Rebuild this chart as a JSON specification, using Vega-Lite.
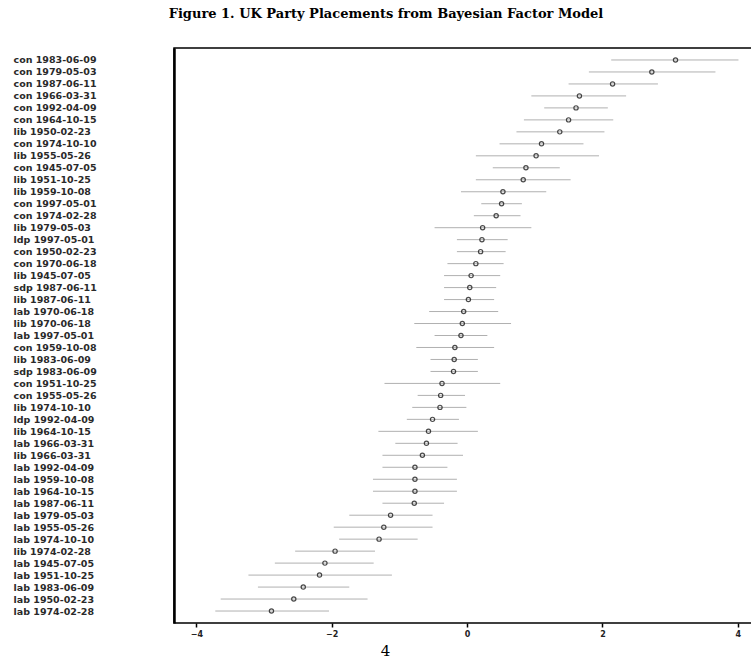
{
  "$schema": "https://vega.github.io/schema/vega-lite/v6.json",
  "width": 578,
  "height": 575,
  "autosize": {"type": "none"},
  "padding": {"left": 174, "top": 48, "right": 0, "bottom": 36},
  "background": "white",
  "title": {
    "text": "Figure 1. UK Party Placements from Bayesian Factor Model",
    "font": "DejaVu Serif",
    "fontSize": 13,
    "fontWeight": "bold",
    "anchor": "middle",
    "dx": -77,
    "offset": 27,
    "color": "black"
  },
  "config": {"view": {"stroke": "black", "strokeWidth": 1.5}},
  "data": {
    "values": [
      {"label": "con 1983-06-09", "est": 3.08, "lo": 2.13, "hi": 4.01},
      {"label": "con 1979-05-03", "est": 2.73, "lo": 1.80, "hi": 3.67},
      {"label": "con 1987-06-11", "est": 2.15, "lo": 1.50, "hi": 2.82},
      {"label": "con 1966-03-31", "est": 1.66, "lo": 0.95, "hi": 2.35},
      {"label": "con 1992-04-09", "est": 1.61, "lo": 1.14, "hi": 2.08},
      {"label": "con 1964-10-15", "est": 1.50, "lo": 0.84, "hi": 2.16},
      {"label": "lib 1950-02-23", "est": 1.37, "lo": 0.73, "hi": 2.03},
      {"label": "con 1974-10-10", "est": 1.10, "lo": 0.48, "hi": 1.72},
      {"label": "lib 1955-05-26", "est": 1.02, "lo": 0.13, "hi": 1.95},
      {"label": "con 1945-07-05", "est": 0.87, "lo": 0.38, "hi": 1.37},
      {"label": "lib 1951-10-25", "est": 0.83, "lo": 0.13, "hi": 1.53},
      {"label": "lib 1959-10-08", "est": 0.53, "lo": -0.09, "hi": 1.17},
      {"label": "con 1997-05-01", "est": 0.51, "lo": 0.21, "hi": 0.81},
      {"label": "con 1974-02-28", "est": 0.43, "lo": 0.10, "hi": 0.79},
      {"label": "lib 1979-05-03", "est": 0.23, "lo": -0.48, "hi": 0.95},
      {"label": "ldp 1997-05-01", "est": 0.22, "lo": -0.15, "hi": 0.60},
      {"label": "con 1950-02-23", "est": 0.20, "lo": -0.15, "hi": 0.57},
      {"label": "con 1970-06-18", "est": 0.13, "lo": -0.29, "hi": 0.54},
      {"label": "lib 1945-07-05", "est": 0.06, "lo": -0.34, "hi": 0.49},
      {"label": "sdp 1987-06-11", "est": 0.04, "lo": -0.34, "hi": 0.43},
      {"label": "lib 1987-06-11", "est": 0.02, "lo": -0.34, "hi": 0.40},
      {"label": "lab 1970-06-18", "est": -0.05, "lo": -0.56, "hi": 0.46},
      {"label": "lib 1970-06-18", "est": -0.07, "lo": -0.78, "hi": 0.65},
      {"label": "lab 1997-05-01", "est": -0.09, "lo": -0.48, "hi": 0.30},
      {"label": "con 1959-10-08", "est": -0.18, "lo": -0.75, "hi": 0.40},
      {"label": "lib 1983-06-09", "est": -0.19, "lo": -0.54, "hi": 0.16},
      {"label": "sdp 1983-06-09", "est": -0.20, "lo": -0.54, "hi": 0.16},
      {"label": "con 1951-10-25", "est": -0.37, "lo": -1.22, "hi": 0.49},
      {"label": "con 1955-05-26", "est": -0.39, "lo": -0.73, "hi": -0.03},
      {"label": "lib 1974-10-10", "est": -0.40, "lo": -0.81, "hi": -0.01},
      {"label": "ldp 1992-04-09", "est": -0.51, "lo": -0.89, "hi": -0.12},
      {"label": "lib 1964-10-15", "est": -0.57, "lo": -1.31, "hi": 0.16},
      {"label": "lab 1966-03-31", "est": -0.60, "lo": -1.06, "hi": -0.14},
      {"label": "lib 1966-03-31", "est": -0.66, "lo": -1.25, "hi": -0.06},
      {"label": "lab 1992-04-09", "est": -0.77, "lo": -1.25, "hi": -0.29},
      {"label": "lab 1959-10-08", "est": -0.77, "lo": -1.39, "hi": -0.15},
      {"label": "lab 1964-10-15", "est": -0.77, "lo": -1.39, "hi": -0.15},
      {"label": "lab 1987-06-11", "est": -0.78, "lo": -1.25, "hi": -0.34},
      {"label": "lab 1979-05-03", "est": -1.13, "lo": -1.74, "hi": -0.51},
      {"label": "lab 1955-05-26", "est": -1.23, "lo": -1.97, "hi": -0.51},
      {"label": "lab 1974-10-10", "est": -1.30, "lo": -1.89, "hi": -0.73},
      {"label": "lib 1974-02-28", "est": -1.95, "lo": -2.54, "hi": -1.36},
      {"label": "lab 1945-07-05", "est": -2.10, "lo": -2.84, "hi": -1.38},
      {"label": "lab 1951-10-25", "est": -2.18, "lo": -3.23, "hi": -1.11},
      {"label": "lab 1983-06-09", "est": -2.42, "lo": -3.09, "hi": -1.74},
      {"label": "lab 1950-02-23", "est": -2.56, "lo": -3.64, "hi": -1.47},
      {"label": "lab 1974-02-28", "est": -2.89, "lo": -3.72, "hi": -2.04}
    ]
  },
  "encoding": {
    "y": {
      "field": "label",
      "type": "nominal",
      "sort": null,
      "scale": {"type": "point", "padding": 1.09},
      "axis": {
        "title": null,
        "ticks": false,
        "tickSize": 0,
        "domain": true,
        "domainColor": "black",
        "domainWidth": 2.5,
        "grid": false,
        "labelAlign": "left",
        "labelBaseline": "middle",
        "labelPadding": 161,
        "labelFont": "DejaVu Sans",
        "labelFontSize": 9.5,
        "labelFontWeight": "bold",
        "labelColor": "#2a2a2a",
        "labelOverlap": false,
        "labelLimit": 0
      }
    }
  },
  "layer": [
    {
      "mark": {"type": "rule", "color": "#b0b0b0", "strokeWidth": 1},
      "encoding": {
        "x": {
          "field": "lo",
          "type": "quantitative",
          "scale": {"domain": [-4.33, 4.21], "nice": false, "zero": false},
          "axis": {
            "values": [-4, -2, 0, 2, 4],
            "format": "d",
            "grid": false,
            "domain": false,
            "ticks": true,
            "tickColor": "black",
            "tickWidth": 1.5,
            "tickSize": 4,
            "labelFont": "DejaVu Sans",
            "labelFontSize": 8,
            "labelFontWeight": "bold",
            "labelColor": "#222222",
            "labelPadding": 3,
            "labelFlush": false,
            "title": "4",
            "titleFont": "DejaVu Serif",
            "titleFontSize": 15,
            "titleFontWeight": "normal",
            "titleColor": "black",
            "titleX": 211,
            "titleY": 27,
            "titleAlign": "center",
            "titleBaseline": "middle"
          }
        },
        "x2": {"field": "hi"}
      }
    },
    {
      "mark": {"type": "point", "shape": "circle", "filled": false, "color": "black", "size": 18, "strokeWidth": 1.2},
      "encoding": {
        "x": {"field": "est", "type": "quantitative"}
      }
    }
  ]
}
